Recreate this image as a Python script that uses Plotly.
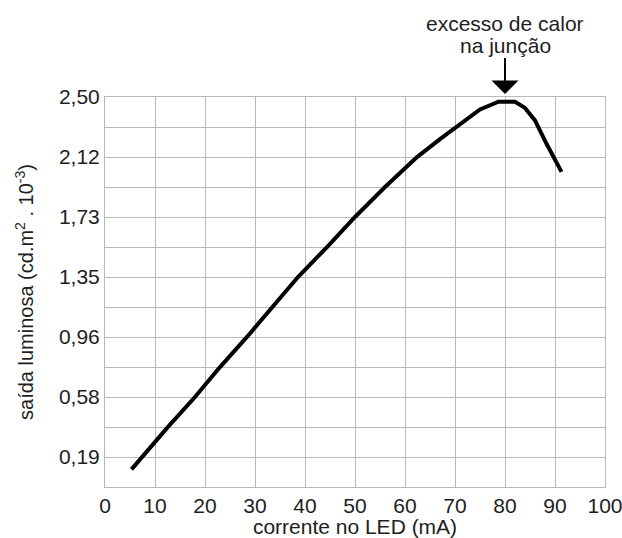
import plotly.graph_objects as go

# LED light output versus drive current
corrente_ma = [5.3, 7.4, 12.6, 18.0, 23.0, 28.4, 33.6, 38.6, 44.4, 50.0, 56.0,
               62.4, 67.0, 71.6, 75.0, 78.7, 82.0, 84.0, 86.0, 88.3, 91.3]
saida = [0.113, 0.192, 0.385, 0.577, 0.769, 0.962, 1.154, 1.346, 1.538, 1.731,
         1.923, 2.115, 2.23, 2.34, 2.42, 2.47, 2.47, 2.43, 2.35, 2.20, 2.02]

x_ticks = [0, 10, 20, 30, 40, 50, 60, 70, 80, 90, 100]
y_tick_labels = ["0,19", "0,58", "0,96", "1,35", "1,73", "2,12", "2,50"]
y_max = 2.5
y_step = y_max / (len(y_tick_labels) - 0.5)          # spacing of labelled lines
y_tick_vals = [(i + 0.5) * y_step for i in range(len(y_tick_labels))]

pico_x = 80
anotacao = ["excesso de calor", "na junção"]

FONT = "Liberation Sans, Arial, sans-serif"
GRID = "#b8b8b8"
TXT = "#1e1e1e"

fig = go.Figure()
fig.add_trace(go.Scatter(
    x=corrente_ma, y=saida, mode="lines",
    line=dict(color="black", width=4),
    hoverinfo="skip", showlegend=False,
))

fig.update_layout(
    width=622, height=538,
    margin=dict(l=105, r=17, t=97, b=51),
    paper_bgcolor="white", plot_bgcolor="white",
    font=dict(family=FONT, size=21, color=TXT),
    showlegend=False,
)

fig.update_xaxes(
    range=[0, 100], tickmode="array", tickvals=x_ticks,
    showgrid=True, gridcolor=GRID, gridwidth=1,
    showline=True, linecolor=GRID, linewidth=1, mirror=True,
    zeroline=False, ticks="", ticklabeloverflow="allow",
    tickfont=dict(size=21, color=TXT),
    title=dict(text="corrente no LED (mA)", font=dict(size=21, color=TXT), standoff=1),
    automargin=False,
)

fig.update_yaxes(
    range=[0, y_max], tickmode="array", tickvals=y_tick_vals, ticktext=y_tick_labels,
    showgrid=True, gridcolor=GRID, gridwidth=1,
    minor=dict(tickmode="array", tickvals=[i * y_step for i in range(1, len(y_tick_labels))],
               showgrid=True, gridcolor=GRID, gridwidth=1, ticks=""),
    showline=True, linecolor=GRID, linewidth=1, mirror=True,
    zeroline=False, ticks="",
    tickfont=dict(size=21, color=TXT),
    title=dict(text="saída luminosa (cd.m<sup>2</sup> . 10<sup>-3</sup>)",
               font=dict(size=20, color=TXT), standoff=19),
    automargin=False,
)

# top label line
fig.add_annotation(
    x=pico_x, y=1.189, xref="x", yref="paper",
    text=anotacao[0], showarrow=False,
    xanchor="center", yanchor="middle",
    font=dict(size=21, color=TXT),
)
# second label line, with the arrow pointing at the maximum of the curve
fig.add_annotation(
    x=pico_x, y=y_max, xref="x", yref="y",
    text=anotacao[1], showarrow=True,
    ax=0, ay=-52,
    arrowhead=1, arrowsize=2.25, arrowwidth=2, arrowcolor="black",
    standoff=3,
    font=dict(size=21, color=TXT),
)

fig.write_html("out.html")
